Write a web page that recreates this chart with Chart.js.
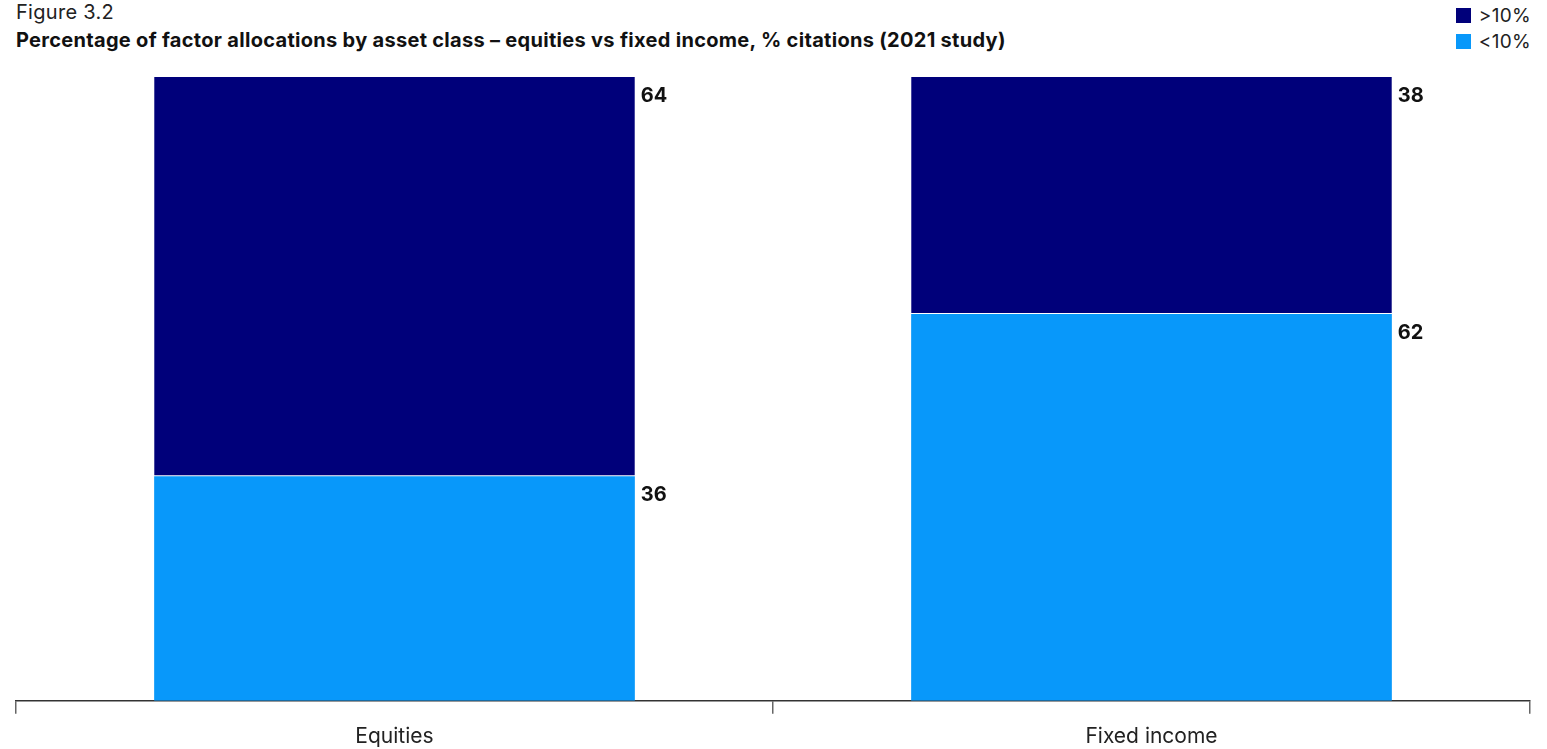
<!DOCTYPE html>
<html>
<head>
<meta charset="utf-8">
<script src="https://cdn.jsdelivr.net/npm/chart.js@4"></script>
<style>
    body { margin: 0; background: #fff; font-family: Inter, 'Noto Sans', sans-serif; color: #111; overflow: hidden; }
    #wrap { position: relative; width: 1547px; height: 749px; overflow: hidden; }
    #fig { position: absolute; left: 16px; top: 0px; font-size: 20px; font-weight: 400; color: #222; letter-spacing: 0.3px; }
    #title { position: absolute; left: 16px; top: 28px; font-size: 20px; font-weight: 700; color: #111; letter-spacing: 0.3px; }
    #legend { position: absolute; right: 16px; top: 2px; font-size: 19px; color: #222; letter-spacing: 0.3px; }
    .item { display: flex; align-items: center; height: 26px; }
    .sw { width: 15px; height: 15px; margin-right: 8px; }
    canvas { position: absolute; left: 0; top: 0; }
</style>
</head>
<body>
<div id="wrap">
    <div id="fig">Figure 3.2</div>
    <div id="title">Percentage of factor allocations by asset class – equities vs fixed income, % citations (2021 study)</div>
    <div id="legend">
        <div class="item"><div class="sw" style="background:#00007a"></div>&gt;10%</div>
        <div class="item"><div class="sw" style="background:#0898fa"></div>&lt;10%</div>
    </div>
    <canvas id="chart" width="1547" height="759"></canvas>
</div>
<script>
// chart data
const categories = ['Equities', 'Fixed income']
const belowTen = [36, 62]
const aboveTen = [64, 38]

const DARK = '#00007a'
const LIGHT = '#0898fa'

// plugin to draw value labels to the right of each segment
const valueLabels = {
    id: 'valueLabels',
    afterDatasetsDraw(chart) {
        const ctx = chart.ctx
        ctx.save()
        ctx.font = 'bold 20px Inter, sans-serif'
        ctx.fillStyle = '#111'
        ctx.textBaseline = 'middle'
        ctx.textAlign = 'left'
        chart.data.datasets.forEach((ds, i) => {
            chart.getDatasetMeta(i).data.forEach((bar, j) => {
                const right = bar.x + bar.width / 2
                const top = Math.min(bar.y, bar.base)
                ctx.fillText(ds.data[j], right + 6, top + 19)
            })
        })
        ctx.restore()
    }
}

new Chart(document.getElementById('chart').getContext('2d'), {
    type: 'bar',
    data: {
        labels: categories,
        datasets: [
            {
                label: '<10%',
                data: belowTen,
                backgroundColor: LIGHT,
                borderWidth: 0
            },
            {
                label: '>10%',
                data: aboveTen,
                backgroundColor: DARK,
                borderColor: '#fff',
                borderSkipped: false,
                borderWidth: { top: 0, left: 0, right: 0, bottom: 1 }
            }
        ]
    },
    options: {
        responsive: false,
        animation: false,
        categoryPercentage: 1,
        barPercentage: 0.635,
        layout: { padding: { left: 16, right: 17, top: 77, bottom: 0 } },
        plugins: {
            legend: { display: false },
            tooltip: { enabled: false }
        },
        scales: {
            x: {
                stacked: true,
                border: { display: true, color: '#333', width: 1.5 },
                grid: {
                    drawOnChartArea: false,
                    drawTicks: true,
                    tickLength: 13,
                    color: '#666',
                    lineWidth: 1.5
                },
                ticks: {
                    color: '#222',
                    padding: 10,
                    font: { family: 'Inter', size: 21 }
                }
            },
            y: {
                stacked: true,
                display: false,
                min: 0,
                max: 100
            }
        }
    },
    plugins: [valueLabels]
})
</script>
</body>
</html>
